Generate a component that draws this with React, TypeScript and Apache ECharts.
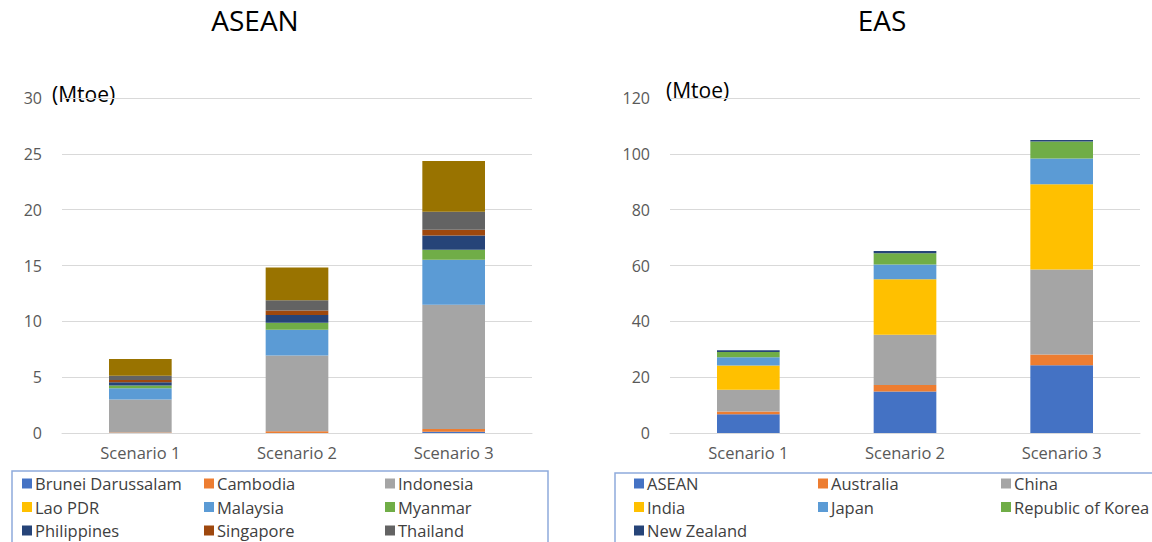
import React, { useEffect, useRef } from "react";
import * as echarts from "echarts";

const categories = ["Scenario 1", "Scenario 2", "Scenario 3"];

const aseanNames = [
  "Brunei Darussalam", "Cambodia", "Indonesia", "Lao PDR", "Malaysia",
  "Myanmar", "Philippines", "Singapore", "Thailand", "Viet Nam",
];
const aseanColors = [
  "#4472C4", "#ED7D31", "#A5A5A5", "#FFC000", "#5B9BD5",
  "#70AD47", "#264478", "#9E480E", "#636363", "#997300",
];
const bruneiValues = [0.0, 0.0, 0.12];
const cambodiaValues = [0.05, 0.15, 0.24];
const indonesiaValues = [2.95, 6.8, 11.13];
const laoValues = [0.0, 0.0, 0.0];
const malaysiaValues = [1.0, 2.3, 4.03];
const myanmarValues = [0.25, 0.62, 0.89];
const philippinesValues = [0.3, 0.69, 1.28];
const singaporeValues = [0.2, 0.42, 0.51];
const thailandValues = [0.38, 0.9, 1.61];
const vietnamValues = [1.5, 2.95, 4.54];
const aseanValues = [
  bruneiValues, cambodiaValues, indonesiaValues, laoValues, malaysiaValues,
  myanmarValues, philippinesValues, singaporeValues, thailandValues, vietnamValues,
];

const easNames = ["ASEAN", "Australia", "China", "India", "Japan", "Republic of Korea", "New Zealand"];
const easColors = ["#4472C4", "#ED7D31", "#A5A5A5", "#FFC000", "#5B9BD5", "#70AD47", "#264478"];
const easAseanValues = [6.7, 14.9, 24.3];
const australiaValues = [1.0, 2.3, 3.8];
const chinaValues = [7.8, 18.0, 30.5];
const indiaValues = [8.7, 19.9, 30.5];
const japanValues = [2.9, 5.3, 9.2];
const koreaValues = [1.9, 4.0, 6.1];
const nzValues = [0.6, 0.8, 0.6];
const easValues = [easAseanValues, australiaValues, chinaValues, indiaValues, japanValues, koreaValues, nzValues];

const aseanTicks = { max: 30, interval: 5 };
const easTicks = { max: 120, interval: 20 };

const FONT = "'Open Sans', 'Noto Sans', sans-serif";

export default function App() {
  const ref = useRef<HTMLDivElement>(null);
  useEffect(() => {
    if (!ref.current) return;
    const chart = echarts.init(ref.current, undefined, { renderer: "svg" });
    const axisLabel = { color: "#595959", fontSize: 16, fontFamily: FONT };
    const series: any[] = [];
    aseanNames.forEach((n, i) => {
      series.push({
        name: n, type: "bar", stack: "asean", xAxisIndex: 0, yAxisIndex: 0,
        barWidth: "40%", data: aseanValues[i], itemStyle: { color: aseanColors[i] },
      });
    });
    easNames.forEach((n, i) => {
      series.push({
        name: n, type: "bar", stack: "eas", xAxisIndex: 1, yAxisIndex: 1,
        barWidth: "40%", data: easValues[i], itemStyle: { color: easColors[i] },
      });
    });
    const legendBase = {
      orient: "vertical", itemWidth: 10, itemHeight: 10, itemGap: 6.5,
      icon: "rect", padding: 0, selectedMode: false,
      textStyle: { fontSize: 16.5, color: "#404040", fontFamily: FONT, padding: [0, 0, 0, -2], lineHeight: 17 },
    };
    const cols = (names: string[], lefts: number[], top: number) =>
      lefts.map((l, c) => ({
        ...legendBase, left: l, top,
        data: names.filter((_, i) => i % 3 === c),
      }));
    chart.setOption({
      animation: false,
      textStyle: { fontFamily: FONT },
      grid: [
        { left: 62, right: 620, top: 98, bottom: 109 },
        { left: 670, right: 12, top: 98, bottom: 109 },
      ],
      xAxis: [0, 1].map((g) => ({
        type: "category", gridIndex: g, data: categories,
        axisLine: { lineStyle: { color: "#d9d9d9", width: 1 } },
        axisTick: { show: false },
        axisLabel: { ...axisLabel, fontSize: 16.5, margin: 11 },
      })),
      yAxis: [aseanTicks, easTicks].map((t, g) => ({
        type: "value", gridIndex: g, min: 0, max: t.max, interval: t.interval,
        axisLine: { show: false }, axisTick: { show: false },
        axisLabel: { ...axisLabel, margin: 20 },
        splitLine: { lineStyle: { color: "#d9d9d9", width: 1 } },
      })),
      legend: [
        ...cols(aseanNames.slice(0, 9), [22, 204, 385], 475),
        ...cols(easNames, [634, 818, 1001], 475),
      ],
      graphic: [
        { type: "text", x: 255, y: 20, style: { text: "ASEAN", font: `28px ${FONT}`, fill: "#000", align: "center", verticalAlign: "middle" } },
        { type: "text", x: 882, y: 20, style: { text: "EAS", font: `28px ${FONT}`, fill: "#000", align: "center", verticalAlign: "middle" } },
        { type: "text", x: 52, y: 94, style: { text: "(Mtoe)", font: `21px ${FONT}`, fill: "#000", verticalAlign: "middle" } },
        { type: "text", x: 666, y: 90, style: { text: "(Mtoe)", font: `21px ${FONT}`, fill: "#000", verticalAlign: "middle" } },
        { type: "rect", shape: { x: 12, y: 471, width: 536, height: 90 }, style: { fill: "none", stroke: "#8faadc", lineWidth: 1.5 } },
        { type: "rect", shape: { x: 615, y: 473, width: 560, height: 90 }, style: { fill: "none", stroke: "#8faadc", lineWidth: 1.5 } },
      ],
      series,
    });
    return () => chart.dispose();
  }, []);
  return (
    <div
      ref={ref}
      style={{ position: "absolute", left: 0, top: 0, width: 1152, height: 542, background: "#fff" }}
    />
  );
}
